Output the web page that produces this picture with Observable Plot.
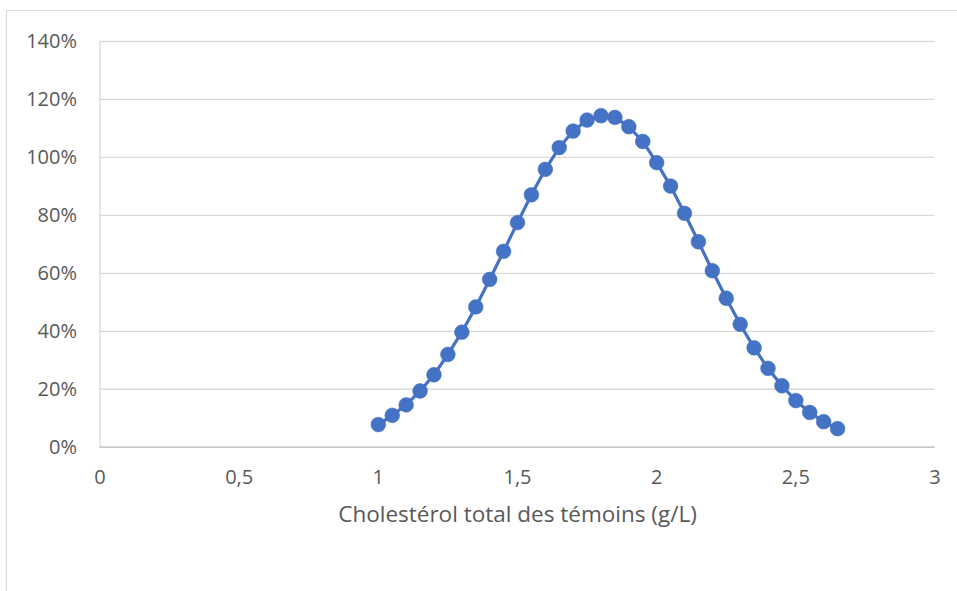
<!DOCTYPE html>
<html>
<head>
<meta charset="utf-8">
<script src="https://cdn.jsdelivr.net/npm/d3@7"></script>
<script src="https://cdn.jsdelivr.net/npm/@observablehq/plot@0.6"></script>
<style>
  html, body { margin: 0; padding: 0; background: #fff; }
  #wrap { position: relative; width: 957px; height: 591px; overflow: hidden; }
  #border { position: absolute; left: 6px; top: 10px; width: 1000px; height: 700px; border: 1px solid #d9d9d9; box-sizing: border-box; }
  #chart { position: absolute; left: 0; top: 0; }
</style>
</head>
<body>
<div id="wrap"><div id="border"></div><div id="chart"></div></div>
<script>
const cholesterol = [1.00,1.05,1.10,1.15,1.20,1.25,1.30,1.35,1.40,1.45,1.50,1.55,1.60,1.65,1.70,1.75,1.80,1.85,1.90,1.95,2.00,2.05,2.10,2.15,2.20,2.25,2.30,2.35,2.40,2.45,2.50,2.55,2.60,2.65];
const ratio = [0.078,0.110,0.146,0.194,0.250,0.320,0.397,0.484,0.579,0.676,0.775,0.871,0.959,1.034,1.091,1.129,1.144,1.138,1.106,1.055,0.982,0.901,0.807,0.709,0.609,0.514,0.424,0.343,0.272,0.212,0.161,0.120,0.088,0.064];
const xTicks = [0, 0.5, 1, 1.5, 2, 2.5, 3];
const yTicks = [0, 0.2, 0.4, 0.6, 0.8, 1.0, 1.2, 1.4];
const xTitle = "Cholestérol total des témoins (g/L)";

const data = cholesterol.map((x, i) => ({x, y: ratio[i]}));
const fmtX = d => String(d).replace(".", ",");
const fmtY = d => Math.round(d * 100) + "%";

const chart = Plot.plot({
  width: 957,
  height: 591,
  marginLeft: 99.5,
  marginRight: 22.5,
  marginTop: 41,
  marginBottom: 144.3,
  style: {fontFamily: "'Open Sans', sans-serif", background: "transparent", overflow: "visible"},
  x: {domain: [0, 3], ticks: xTicks, tickFormat: fmtX},
  y: {domain: [0, 1.4], ticks: yTicks, tickFormat: fmtY},
  marks: [
    Plot.gridY(yTicks, {stroke: "#d9d9d9", strokeOpacity: 1, strokeWidth: 1.3}),
    Plot.ruleX([0], {stroke: "#d9d9d9", strokeWidth: 1.3}),
    Plot.ruleY([0], {stroke: "#bfbfbf", strokeWidth: 1.3}),
    Plot.axisX(xTicks, {tickSize: 0, tickPadding: 23, fontSize: 20, fill: "#595959", label: null, tickFormat: fmtX}),
    Plot.axisY(yTicks, {tickSize: 0, tickPadding: 23, fontSize: 20, fill: "#595959", label: null, tickFormat: fmtY}),
    Plot.text([xTitle], {frameAnchor: "bottom", dy: 75, fontSize: 22.5, fill: "#595959", text: d => d}),
    Plot.line(data, {x: "x", y: "y", stroke: "#4472C4", strokeWidth: 3.2}),
    Plot.dot(data, {x: "x", y: "y", r: 7.4, fill: "#4472C4", stroke: "#4472C4", strokeWidth: 0.5})
  ]
});
document.getElementById("chart").appendChild(chart);
</script>
</body>
</html>
